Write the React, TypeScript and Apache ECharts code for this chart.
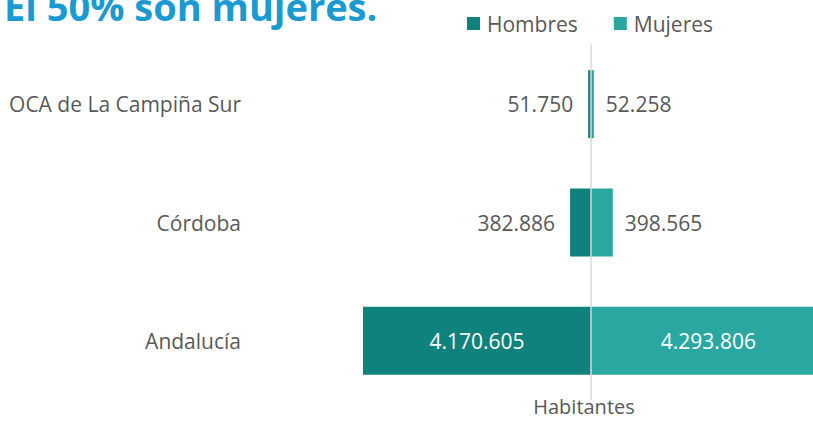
import React, { useEffect, useRef } from "react";
import * as echarts from "echarts";

const categories = ["OCA de La Campiña Sur", "Córdoba", "Andalucía"];
const hombres = [51750, 382886, 4170605];
const mujeres = [52258, 398565, 4293806];
const seriesNames = ["Hombres", "Mujeres"];
const titleText = "El 50% son mujeres.";
const axisTitle = "Habitantes";

const FONT = "'Open Sans', 'Noto Sans', sans-serif";
const GRAY = "#595959";
const C_H = "#0f827d";
const C_M = "#2aa7a0";

function fmt(v: number): string {
  return String(Math.abs(Math.round(v))).replace(/\B(?=(\d{3})+(?!\d))/g, ".");
}

export default function App() {
  const ref = useRef<HTMLDivElement>(null);
  useEffect(() => {
    document.body.style.margin = "0";
    document.body.style.overflow = "hidden";
    document.documentElement.style.overflow = "hidden";
    const chart = echarts.init(ref.current!, null, { renderer: "svg" });
    const insideIdx = 2;
    chart.setOption({
      animation: false,
      backgroundColor: "#ffffff",
      textStyle: { fontFamily: FONT },
      graphic: [
        {
          type: "text",
          left: 4,
          top: -13,
          style: {
            text: titleText,
            font: `bold 38px ${FONT}`,
            fill: "#1b9ad2",
          },
        },
        {
          type: "text",
          x: 584,
          y: 406,
          style: {
            text: axisTitle,
            font: `20px ${FONT}`,
            fill: GRAY,
            align: "center",
            verticalAlign: "middle",
          },
        },
      ],
      legend: {
        data: seriesNames,
        left: 462,
        top: 8,
        icon: "rect",
        itemWidth: 13,
        itemHeight: 13,
        itemGap: 36,
        textStyle: { color: GRAY, fontSize: 21, fontFamily: FONT, padding: [0, 0, 0, 2] },
      },
      grid: { left: 263, right: 3, top: 45, bottom: 21, containLabel: false },
      xAxis: {
        type: "value",
        min: -6000000,
        max: 4500000,
        show: false,
      },
      yAxis: [
        {
          type: "category",
          data: categories,
          inverse: true,
          z: 5,
          axisLine: { show: true, onZero: true, lineStyle: { color: "#d9d9d9", width: 1.5 } },
          axisTick: { show: false },
          axisLabel: { show: false },
        },
        {
          type: "category",
          data: categories,
          inverse: true,
          position: "left",
          axisLine: { show: false, onZero: false },
          axisTick: { show: false },
          axisLabel: { show: true, margin: 22, color: GRAY, fontSize: 21, fontFamily: FONT },
        },
      ],
      series: [
        {
          name: seriesNames[0],
          type: "bar",
          barWidth: 68,
          barGap: "-100%",
          itemStyle: { color: C_H },
          label: {
            show: true,
            position: "left",
            distance: 15,
            color: GRAY,
            fontSize: 21,
            fontFamily: FONT,
            formatter: (p: any) => fmt(p.value),
          },
          data: hombres.map((v, i) =>
            i === insideIdx
              ? { value: -v, label: { position: "inside", color: "#ffffff" } }
              : { value: -v }
          ),
        },
        {
          name: seriesNames[1],
          type: "bar",
          barWidth: 68,
          barGap: "-100%",
          itemStyle: { color: C_M },
          label: {
            show: true,
            position: "right",
            distance: 12,
            color: GRAY,
            fontSize: 21,
            fontFamily: FONT,
            formatter: (p: any) => fmt(p.value),
          },
          data: mujeres.map((v, i) =>
            i === insideIdx
              ? { value: v, label: { position: "inside", color: "#ffffff" } }
              : { value: v }
          ),
        },
      ],
    });
    return () => chart.dispose();
  }, []);
  return <div ref={ref} style={{ width: 840, height: 421 }} />;
}
